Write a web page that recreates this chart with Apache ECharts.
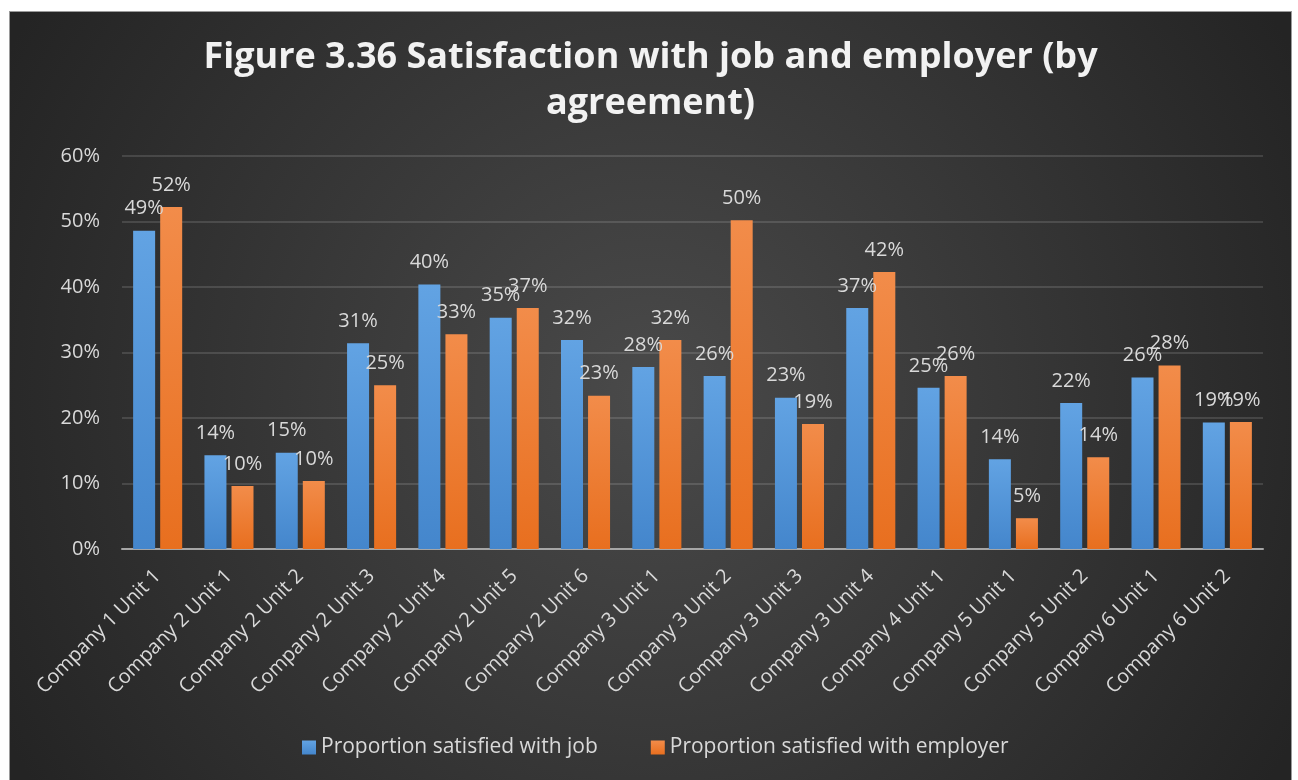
<!DOCTYPE html>
<html>
<head>
<meta charset="utf-8">
<script src="https://cdn.jsdelivr.net/npm/echarts@6/dist/echarts.min.js"></script>
<style>
  html, body { margin: 0; padding: 0; background: #ffffff; }
  #frame { position: absolute; left: 9px; top: 11px; width: 1283px; height: 769px; background: #9a9a9a; }
  #chart { position: absolute; left: 1px; top: 1px; width: 1281px; height: 768px; }
</style>
</head>
<body>
<div id="frame"><div id="chart"></div></div>
<script>
const categories = [
  'Company 1 Unit 1', 'Company 2 Unit 1', 'Company 2 Unit 2', 'Company 2 Unit 3',
  'Company 2 Unit 4', 'Company 2 Unit 5', 'Company 2 Unit 6', 'Company 3 Unit 1',
  'Company 3 Unit 2', 'Company 3 Unit 3', 'Company 3 Unit 4', 'Company 4 Unit 1',
  'Company 5 Unit 1', 'Company 5 Unit 2', 'Company 6 Unit 1', 'Company 6 Unit 2'
];
const jobSatisfied = [48.6, 14.3, 14.7, 31.4, 40.4, 35.3, 31.9, 27.8, 26.4, 23.1, 36.8, 24.6, 13.7, 22.3, 26.2, 19.3];
const employerSatisfied = [52.2, 9.6, 10.4, 25.0, 32.8, 36.8, 23.4, 31.9, 50.2, 19.1, 42.3, 26.4, 4.7, 14.0, 28.0, 19.4];
const yTicks = { min: 0, max: 60, interval: 10 };
const seriesNames = ['Proportion satisfied with job', 'Proportion satisfied with employer'];
const titleText = 'Figure 3.36 Satisfaction with job and employer (by\nagreement)';

const FONT = '"Open Sans", "Noto Sans", sans-serif';
const textColor = '#d9d9d9';

function grad(top, bottom) {
  return { type: 'linear', x: 0, y: 0, x2: 0, y2: 1,
    colorStops: [{ offset: 0, color: top }, { offset: 1, color: bottom }] };
}

const labelOpt = {
  show: true, position: 'top', distance: 12,
  color: textColor, fontFamily: FONT, fontSize: 20,
  formatter: p => Math.round(p.value) + '%'
};

const chart = echarts.init(document.getElementById('chart'), null, { renderer: 'canvas' });
chart.setOption({
  backgroundColor: {
    type: 'radial', x: 0.5, y: 0.5, r: 0.95,
    colorStops: [{ offset: 0, color: '#4a4a4a' }, { offset: 1, color: '#242424' }]
  },
  animation: false,
  title: {
    text: titleText, left: 'center', top: 18,
    textStyle: { color: '#f2f2f2', fontFamily: FONT, fontWeight: 'bold', fontSize: 36, lineHeight: 46 }
  },
  legend: {
    data: seriesNames, bottom: 17, left: 287,
    itemWidth: 14, itemHeight: 14, itemGap: 53,
    icon: 'rect',
    textStyle: { color: textColor, fontFamily: FONT, fontSize: 21 }
  },
  grid: { left: 112, right: 28, top: 144, bottom: 231, containLabel: false },
  xAxis: {
    type: 'category', data: categories,
    axisLine: { lineStyle: { color: '#a6a6a6', width: 2 } },
    axisTick: { show: false },
    axisLabel: { rotate: 45, interval: 0, margin: 24, color: textColor, fontFamily: FONT, fontSize: 20 }
  },
  yAxis: {
    type: 'value', min: yTicks.min, max: yTicks.max, interval: yTicks.interval,
    axisLine: { show: false }, axisTick: { show: false },
    axisLabel: { formatter: '{value}%', margin: 22, color: textColor, fontFamily: FONT, fontSize: 20 },
    splitLine: { lineStyle: { color: 'rgba(255,255,255,0.13)', width: 2 } }
  },
  series: [
    { name: seriesNames[0], type: 'bar', data: jobSatisfied, barWidth: 22, barGap: '23%',
      itemStyle: { color: grad('#62a3e3', '#4486cc') }, label: labelOpt },
    { name: seriesNames[1], type: 'bar', data: employerSatisfied, barWidth: 22,
      itemStyle: { color: grad('#f28c4a', '#e86f1f') }, label: labelOpt }
  ]
});
</script>
</body>
</html>
